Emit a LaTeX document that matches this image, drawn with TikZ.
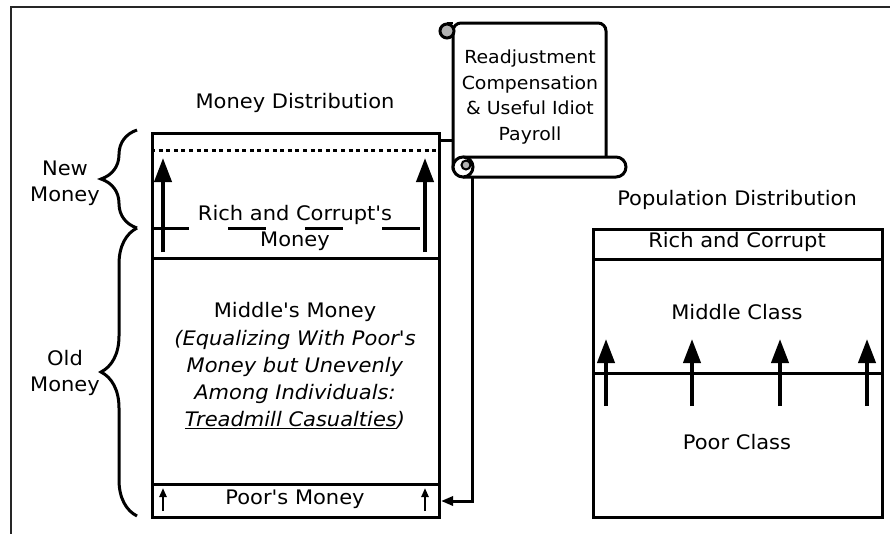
\documentclass[tikz,border=0pt]{standalone}
\usepackage{fontspec}
\newfontfamily\dv[FakeStretch=1.05]{DejaVu Sans}
\usetikzlibrary{arrows.meta,decorations.pathreplacing}
\begin{document}
\begin{tikzpicture}[x=1pt,y=-1pt,
  txt/.style={font=\dv\fontsize{20}{26}\selectfont, align=center, inner sep=0pt},
  box/.style={draw, line width=3pt, inner sep=0pt, anchor=north west},
  bigarrow/.style={line width=4pt, -{Triangle[length=24pt,width=17pt]}},
  smallarrow/.style={line width=2.5pt, -{Triangle[length=9pt,width=7pt]}},
  conn/.style={line width=3pt},
  bracestyle/.style={line width=3pt, decorate, decoration={brace, amplitude=36pt}},
  curl/.style={line width=3pt, fill=white}]
\useasboundingbox (0,0) rectangle (890,533);
% outer frame
\draw[black!85, line width=2pt] (11,540) -- (11,7) -- (895,7);

% money boxes
\node[box, minimum width=287pt, minimum height=125pt] (mrich) at (151,132) {};
\node[box, minimum width=287pt, minimum height=226pt] (mmid) at (151,257) {};
\node[box, minimum width=287pt, minimum height=33pt] (mpoor) at (151,483) {};
% population boxes
\node[box, minimum width=289pt, minimum height=30pt] (prich) at (592,228) {};
\node[box, minimum width=289pt, minimum height=114pt] (pmid) at (592,258) {};
\node[box, minimum width=289pt, minimum height=144pt] (ppoor) at (592,372) {};

% dotted and dashed lines inside rich money
\draw[line width=3pt, dash pattern=on 4pt off 3.6pt] (151,150) -- (438,150);
\draw[line width=3pt, dash pattern=on 38pt off 39pt] (151,228) -- (438,228);

% arrows
\draw[bigarrow] (163,252) -- (163,158);
\draw[bigarrow] (425,252) -- (425,158);
\draw[smallarrow] (163,511) -- (163,488);
\draw[smallarrow] (425,511) -- (425,488);
\foreach \x in {606,692,780,867} \draw[bigarrow] (\x,406) -- (\x,339);

% braces
\draw[bracestyle] (137,228) -- (137,130);
\draw[bracestyle] (137,516) -- (137,228);

% texts
\node[txt] (tmd) at (295,103) {Money Distribution};
\node[txt] (tnew) at (65,183) {New\\Money};
\node[txt] (told) at (65,373) {Old\\Money};
\node[txt] (trich) at (295,228) {Rich and Corrupt's\\Money};
\node[txt, font=\dv\fontsize{20}{27.2}\selectfont] (tmid) at (295,366) {Middle's Money\\\textit{(Equalizing With Poor's}\\\textit{Money but Unevenly}\\\textit{Among Individuals:}\\\textit{\underline{Treadmill Casualties})}};
\node[txt] (tpoor) at (295,499) {Poor's Money};
\node[txt] (tpd) at (737,200) {Population Distribution};
\node[txt] (tprich) at (737,242) {Rich and Corrupt};
\node[txt] (tpmid) at (737,312) {Middle Class};
\node[txt] (tppoor) at (737,442) {Poor Class};

% connectors from the scroll
\coordinate (scrollL) at (453,140);
\coordinate (scrollB) at (472,177);
\draw[conn] (mrich.east |- scrollL) -- (scrollL);
\draw[conn, -{Triangle[length=12pt,width=9pt]}] (scrollB) |- (mpoor.east);

% scroll shape
\draw[curl, rounded corners=8pt] (453,170) -- (453,23) -- (606,23) -- (606,165);
\draw[curl, rounded corners=10pt] (463,157) -- (626,157) -- (626,177) -- (463,177);
\draw[curl] (463,167) circle (10pt);
\draw[line width=2pt, fill=black!30] (466,165) circle (4.5pt);
\draw[line width=2pt, fill=white] (453,23) -- (447,23);
\draw[line width=3pt, fill=black!30] (447,31) circle (7pt);
\node[font=\dv\fontsize{18}{25.5}\selectfont, align=center, inner sep=0pt] (scroll) at (530,97) {Readjustment\\Compensation\\\& Useful Idiot\\Payroll};
\end{tikzpicture}
\end{document}
